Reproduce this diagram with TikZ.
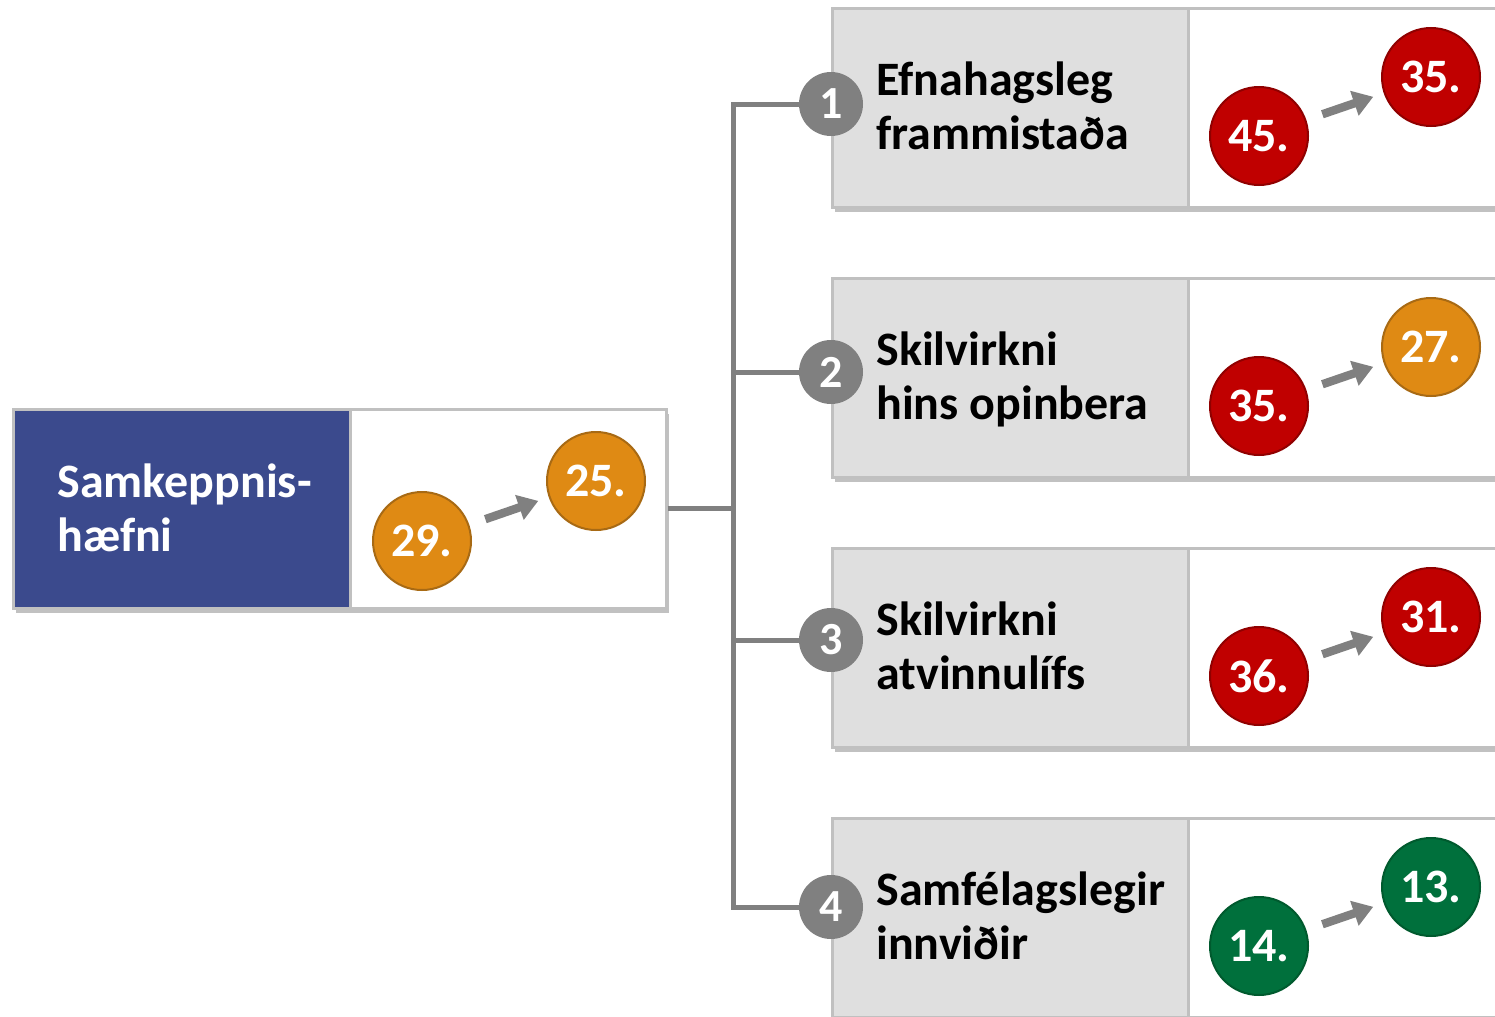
\documentclass[tikz,border=0pt]{standalone}
\usepackage{fontspec}
\setmainfont{Carlito}
\usetikzlibrary{arrows.meta,shadows}
\definecolor{navy}{HTML}{3B4A8D}
\definecolor{panelgray}{HTML}{DFDFDF}
\definecolor{edgegray}{HTML}{C0C0C0}
\definecolor{conngray}{HTML}{808080}
\definecolor{orangefill}{HTML}{DF8A14}
\definecolor{orangeedge}{HTML}{A86A14}
\definecolor{redfill}{HTML}{C00000}
\definecolor{rededge}{HTML}{900000}
\definecolor{greenfill}{HTML}{00703C}
\definecolor{greenedge}{HTML}{005A2E}
\begin{document}
\begin{tikzpicture}[x=0.5pt,y=-0.5pt,
  panel/.style={draw=edgegray, line width=1.5pt, inner sep=0pt, minimum height=99.5pt,
     drop shadow={shadow xshift=1.5pt, shadow yshift=-2.5pt, opacity=0.35, fill=black!70}},
  bluepanel/.style={panel, fill=navy, minimum width=168.5pt},
  whitepanel/.style={panel, fill=white},
  graypanel/.style={panel, fill=panelgray, minimum width=178pt},
  label/.style={font=\bfseries\fontsize{24}{27}\selectfont, align=left, anchor=base west, inner sep=0pt},
  rank/.style={circle, minimum size=49pt, inner sep=0pt, line width=1pt, text=white,
     font=\bfseries\fontsize{24}{24}\selectfont},
  orank/.style={rank, fill=orangefill, draw=orangeedge},
  rrank/.style={rank, fill=redfill, draw=rededge},
  grank/.style={rank, fill=greenfill, draw=greenedge},
  num/.style={circle, minimum size=32pt, inner sep=0pt, fill=conngray, text=white,
     font=\bfseries\fontsize{23}{23}\selectfont},
  conn/.style={draw=conngray, line width=2.5pt},
  bigarrow/.style={draw=conngray, line width=4.2pt, -{Triangle[length=10pt,width=12.5pt]},
     shorten <=8.5pt, shorten >=5.5pt}
]
\useasboundingbox (0,0) rectangle (1495,1017);
\clip (0,0) rectangle (1495,1017);

% left panel
\node[bluepanel] (blue) at (181.5,508.5) {};
\node[whitepanel, minimum width=158pt] (lw) at (508,508.5) {};
\node[label, text=white] (ltxt) at (57,551) {Samkeppnis-\\hæfni};
\node[orank] (l1) at (422,541) {29.};
\node[orank] (l2) at (596,481) {25.};
\draw[bigarrow] (l1) -- (l2);

% right rows
\foreach \i/\y/\ny/\ta/\tb/\ra/\rb/\sa/\sb in {
  1/107.5/104/Efnahagsleg/frammistaða/45./35./rrank/rrank,
  2/377.5/372/Skilvirkni/hins opinbera/35./27./rrank/orank,
  3/647.5/640/Skilvirkni/atvinnulífs/36./31./rrank/rrank,
  4/917.5/907/Samfélagslegir/innviðir/14./13./grank/grank}{
  \node[graypanel] (g\i) at (1010,\y) {};
  \node[whitepanel, minimum width=160pt] (w\i) at (1348,\y) {};
  \node[label] (t\i) at (876,\y+41.5) {\ta\\\tb};
  \node[\sa] (a\i) at (1259,\y+28.5) {\ra};
  \node[\sb] (b\i) at (1431,\y-30.5) {\rb};
  \draw[bigarrow] (a\i) -- (b\i);
  \node[num] (n\i) at (831,\ny) {\i};
}

% connectors
\coordinate (jn) at (733,508.5);
\draw[conn] (lw.east) -- (jn);
\foreach \i in {1,...,4}{
  \draw[conn] (jn) |- (n\i);
}
\end{tikzpicture}
\end{document}
